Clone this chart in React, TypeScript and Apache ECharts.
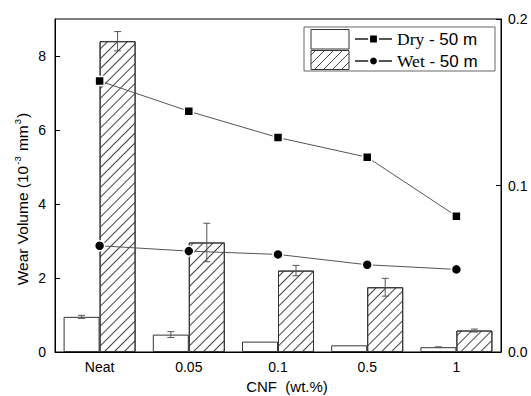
import React, { useEffect, useRef } from "react";
import * as echarts from "echarts";

const categories = ["Neat", "0.05", "0.1", "0.5", "1"];
const dryBar = [0.95, 0.47, 0.28, 0.18, 0.13];
const dryBarErr = [0.04, 0.08, 0, 0, 0.01];
const wetBar = [8.4, 2.96, 2.2, 1.75, 0.58];
const wetBarErr = [0.26, 0.52, 0.14, 0.24, 0.04];
const dryLine = [0.1628, 0.1446, 0.1288, 0.117, 0.0816];
const wetLine = [0.0638, 0.0606, 0.0586, 0.0524, 0.0496];
const leftTicks = [0, 9, 2];
const rightTicks = [0, 0.2, 0.1];

const FONT = "Liberation Sans";
const BAR_W = 36;

function errSeries(vals: number[], errs: number[], offset: number) {
  return {
    type: "custom",
    xAxisIndex: 0,
    yAxisIndex: 0,
    z: 5,
    silent: true,
    data: vals.map((v, i) => [i, v, errs[i]]),
    renderItem: (params: any, api: any) => {
      const i = api.value(0);
      const v = api.value(1);
      const e = api.value(2);
      if (!e) return null;
      const hi = api.coord([i, v + e]);
      const lo = api.coord([i, v - e]);
      const x = hi[0] + offset;
      const cap = 3.5;
      const style = { stroke: "#555", lineWidth: 1 };
      return {
        type: "group",
        children: [
          { type: "line", shape: { x1: x, y1: hi[1], x2: x, y2: lo[1] }, style },
          { type: "line", shape: { x1: x - cap, y1: hi[1], x2: x + cap, y2: hi[1] }, style },
          { type: "line", shape: { x1: x - cap, y1: lo[1], x2: x + cap, y2: lo[1] }, style },
        ],
      };
    },
  };
}

function hatchLines(x0: number, y0: number, w: number, h: number, step: number) {
  const out: any[] = [];
  for (let c = x0 + y0 + step / 2; c < x0 + w + y0 + h; c += step) {
    const xa = Math.max(x0, c - (y0 + h));
    const xb = Math.min(x0 + w, c - y0);
    if (xb <= xa) continue;
    out.push({
      type: "line",
      z: 11,
      shape: { x1: xa, y1: c - xa, x2: xb, y2: c - xb },
      style: { stroke: "#444", lineWidth: 1 },
    });
  }
  return out;
}

export default function App() {
  const ref = useRef<HTMLDivElement>(null);
  useEffect(() => {
    if (!ref.current) return;
    document.body.style.margin = "0";
    const chart = echarts.init(ref.current, undefined, { renderer: "svg" });
    const decal = {
      symbol: "rect",
      symbolSize: 1,
      dashArrayX: [1, 0],
      dashArrayY: [1, 5.4],
      rotation: -Math.PI / 4,
      color: "#444",
      backgroundColor: "#fff",
    };
    const option: any = {
      animation: false,
      backgroundColor: "#fff",
      textStyle: { fontFamily: FONT },
      grid: {
        left: 55,
        right: 30,
        top: 19,
        bottom: 44,
        show: true,
        borderColor: "#000",
        borderWidth: 1,
      },
      legend: {
        data: ["Dry - 50 m", "Wet - 50 m"],
        orient: "vertical",
        left: 354,
        top: 30,
        padding: 0,
        itemWidth: 37,
        itemHeight: 11,
        itemGap: 4,
        z: 12,
        formatter: (name: string) =>
          name.startsWith("Dry") ? "{s|Dry} - 50 m" : "{s|Wet} - 50 m",
        textStyle: {
          fontFamily: FONT,
          fontSize: 17,
          color: "#000",
          lineHeight: 18,
          rich: {
            s: { fontFamily: "Liberation Serif", fontSize: 17.5, color: "#000" },
          },
        },
      },
      xAxis: {
        type: "category",
        data: categories,
        boundaryGap: true,
        axisLine: { lineStyle: { color: "#000", width: 1 } },
        axisTick: { inside: true, length: 5, lineStyle: { color: "#000" } },
        axisLabel: { fontFamily: FONT, fontSize: 14, color: "#000", margin: 8 },
      },
      yAxis: [
        {
          type: "value",
          min: leftTicks[0],
          max: leftTicks[1],
          interval: leftTicks[2],
          splitLine: { show: false },
          axisLine: { show: true, lineStyle: { color: "#000" } },
          axisTick: { show: true, inside: true, length: 5, lineStyle: { color: "#000" } },
          axisLabel: {
            fontFamily: FONT,
            fontSize: 14,
            color: "#000",
            margin: 9,
            showMaxLabel: false,
          },
        },
        {
          type: "value",
          position: "right",
          min: rightTicks[0],
          max: rightTicks[1],
          interval: rightTicks[2],
          splitLine: { show: false },
          axisLine: { show: true, lineStyle: { color: "#000" } },
          axisTick: { show: true, inside: true, length: 5, lineStyle: { color: "#000" } },
          axisLabel: {
            fontFamily: FONT,
            fontSize: 14,
            color: "#000",
            margin: 7,
            formatter: (v: number) => v.toFixed(1),
          },
        },
      ],
      series: [
        {
          name: "Dry bar",
          type: "bar",
          data: dryBar,
          barWidth: BAR_W,
          barGap: "0%",
          itemStyle: { color: "#fff", borderColor: "#333", borderWidth: 1 },
          z: 2,
        },
        {
          name: "Wet bar",
          type: "bar",
          data: wetBar,
          barWidth: BAR_W,
          barGap: "0%",
          itemStyle: { color: "#fff", borderColor: "#333", borderWidth: 1, decal },
          z: 2,
        },
        errSeries(dryBar, dryBarErr, -BAR_W / 2),
        errSeries(wetBar, wetBarErr, BAR_W / 2),
        {
          name: "Dry - 50 m",
          type: "line",
          yAxisIndex: 1,
          data: dryLine,
          symbol: "rect",
          symbolSize: 9,
          z: 6,
          lineStyle: { color: "#555", width: 1 },
          itemStyle: { color: "#000", borderColor: "#fff", borderWidth: 1.5 },
        },
        {
          name: "Wet - 50 m",
          type: "line",
          yAxisIndex: 1,
          data: wetLine,
          symbol: "circle",
          symbolSize: 10,
          z: 6,
          lineStyle: { color: "#555", width: 1 },
          itemStyle: { color: "#000", borderColor: "#fff", borderWidth: 1.5 },
        },
      ],
      graphic: [
        {
          type: "rect",
          z: 10,
          shape: { x: 304, y: 27, width: 191, height: 44 },
          style: { fill: "#fff", stroke: "#666", lineWidth: 1 },
        },
        {
          type: "rect",
          z: 11,
          shape: { x: 311, y: 29.5, width: 38, height: 19.5 },
          style: { fill: "#fff", stroke: "#333", lineWidth: 1 },
        },
        {
          type: "rect",
          z: 11,
          shape: { x: 311, y: 50.5, width: 38, height: 19 },
          style: { fill: "#fff", stroke: "#333", lineWidth: 1 },
        },
        ...hatchLines(311, 50.5, 38, 19, 9),
        {
          type: "text",
          x: 22,
          y: 199,
          rotation: Math.PI / 2,
          style: {
            text: "{n|Wear Volume (10}{sup|-3}{n| mm}{sup|3}{n|)}",
            align: "center",
            verticalAlign: "middle",
            rich: {
              n: { fontFamily: FONT, fontSize: 15.5, fill: "#000", lineHeight: 20 },
              sup: {
                fontFamily: FONT,
                fontSize: 9.5,
                fill: "#000",
                lineHeight: 20,
                verticalAlign: "top",
                padding: [0, 1, 0, 1],
              },
            },
          },
        },
        {
          type: "text",
          x: 287,
          y: 386,
          style: {
            text: "CNF  (wt.%)",
            fontFamily: FONT,
            fontSize: 15,
            fill: "#000",
            align: "center",
            verticalAlign: "middle",
          },
        },
      ],
    };
    chart.setOption(option);
    return () => chart.dispose();
  }, []);
  return <div ref={ref} style={{ width: 531, height: 396 }} />;
}
